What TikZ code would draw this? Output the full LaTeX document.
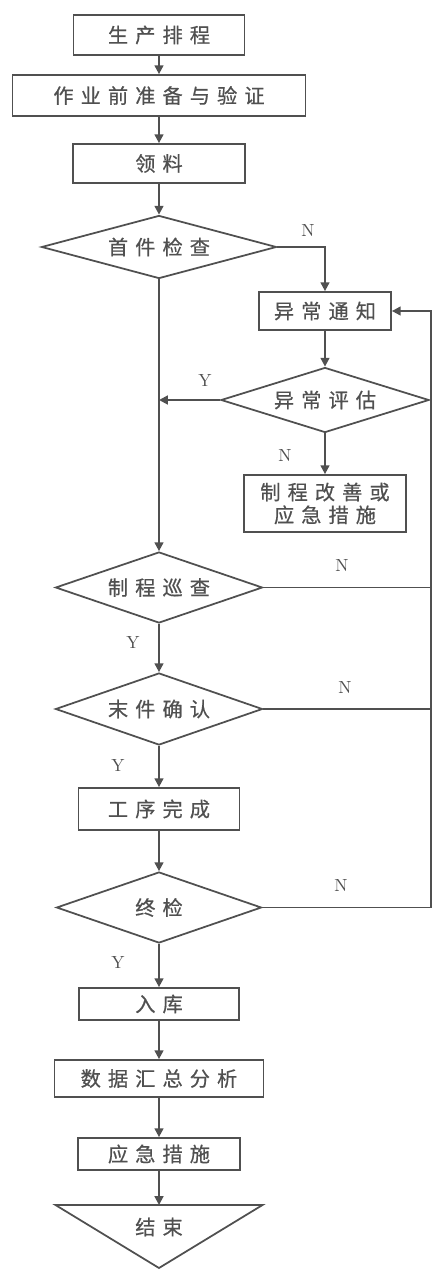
\documentclass[tikz,border=0pt]{standalone}
\usepackage{fontspec}
\newfontfamily\cjk[LetterSpace=35, FakeBold=0.6]{Noto Sans CJK SC}
\usetikzlibrary{positioning, shapes.geometric, arrows.meta, calc}
\definecolor{cline}{RGB}{80,80,80}
\definecolor{ctext}{RGB}{80,80,80}

\begin{document}
\begin{tikzpicture}[font=\cjk\fontsize{11.5}{13}\selectfont, text=ctext,
    box/.style={draw=cline, line width=1pt, inner sep=0pt},
    decision/.style={diamond, draw=cline, line width=1pt, inner sep=0pt, aspect=3.5},
    flow/.style={draw=cline, line width=1.1pt, -{Triangle[length=5pt,width=5pt]}},
    link/.style={draw=cline, line width=1pt},
    yn/.style={font=\rmfamily\fontsize{10}{12}\selectfont, text=ctext}]
  \useasboundingbox (0,0) rectangle (8.66,-25.46);

  % --- main column ---
  \node[box, minimum width=3.42cm, minimum height=0.8cm] (plan) at (3.18,-0.70) {生产排程};
  \node[box, minimum width=5.86cm, minimum height=0.82cm] (prep) at (3.18,-1.91) {作业前准备与验证};
  \node[box, minimum width=3.44cm, minimum height=0.78cm] (pick) at (3.18,-3.27) {领料};
  \node[decision, minimum width=4.7cm, minimum height=1.26cm] (first) at (3.18,-4.94) {首件检查};
  \node[decision, minimum width=4.14cm, minimum height=1.42cm] (patrol) at (3.18,-11.75) {制程巡查};
  \node[decision, minimum width=4.14cm, minimum height=1.44cm] (last) at (3.18,-14.18) {末件确认};
  \node[box, minimum width=3.22cm, minimum height=0.84cm] (done) at (3.18,-16.18) {工序完成};
  \node[decision, minimum width=4.1cm, minimum height=1.42cm] (final) at (3.18,-18.15) {终检};
  \node[box, minimum width=3.2cm, minimum height=0.64cm] (store) at (3.18,-20.08) {入库};
  \node[box, minimum width=4.18cm, minimum height=0.74cm] (data) at (3.18,-21.57) {数据汇总分析};
  \node[box, minimum width=3.24cm, minimum height=0.64cm] (act) at (3.18,-23.08) {应急措施};

  % --- end triangle ---
  \coordinate (endl) at (1.11,-24.10);
  \coordinate (endr) at (5.25,-24.10);
  \coordinate (endtip) at (3.18,-25.36);
  \draw[link] (endl) -- (endr) -- (endtip) -- cycle;
  \node (end) at (3.18,-24.54) {结束};

  % --- abnormal branch ---
  \node[box, minimum width=2.64cm, minimum height=0.76cm] (notify) at (6.5,-6.22) {异常通知};
  \node[decision, minimum width=4.16cm, minimum height=1.3cm] (eval) at (6.5,-8.0) {异常评估};
  \node[box, minimum width=3.24cm, minimum height=1.14cm, align=center] (fix) at (6.5,-10.07) {制程改善或\\应急措施};
  \coordinate (loop) at (8.62,0);

  % --- connectors ---
  \draw[flow] (plan) -- (prep);
  \draw[flow] (prep) -- (pick);
  \draw[flow] (pick) -- (first);
  \draw[flow] (first.east) -| (notify.north);
  \draw[flow] (notify) -- (eval);
  \draw[flow] (eval.west) -- (eval.west -| first.south);
  \draw[flow] (eval) -- (fix);
  \draw[flow] (first) -- (patrol);
  \draw[flow] (patrol) -- (last);
  \draw[flow] (last) -- (done);
  \draw[flow] (done) -- (final);
  \draw[flow] (final) -- (store);
  \draw[flow] (store) -- (data);
  \draw[flow] (data) -- (act);
  \draw[flow] (act) -- (act.south |- endl);
  \draw[link] (patrol.east) -- (patrol.east -| loop);
  \draw[link] (last.east) -- (last.east -| loop);
  \draw[flow] (final.east) -- (final.east -| loop) |- (notify.east);

  % --- Y / N labels ---
  \node[yn] (n1) at (6.16,-4.6) {N};
  \node[yn] (y1) at (4.1,-7.6) {Y};
  \node[yn] (n2) at (5.7,-9.1) {N};
  \node[yn] (n3) at (6.84,-11.3) {N};
  \node[yn] (y2) at (2.66,-12.84) {Y};
  \node[yn] (n4) at (6.9,-13.74) {N};
  \node[yn] (y3) at (2.36,-15.3) {Y};
  \node[yn] (n5) at (6.82,-17.7) {N};
  \node[yn] (y4) at (2.36,-19.24) {Y};
\end{tikzpicture}
\end{document}
